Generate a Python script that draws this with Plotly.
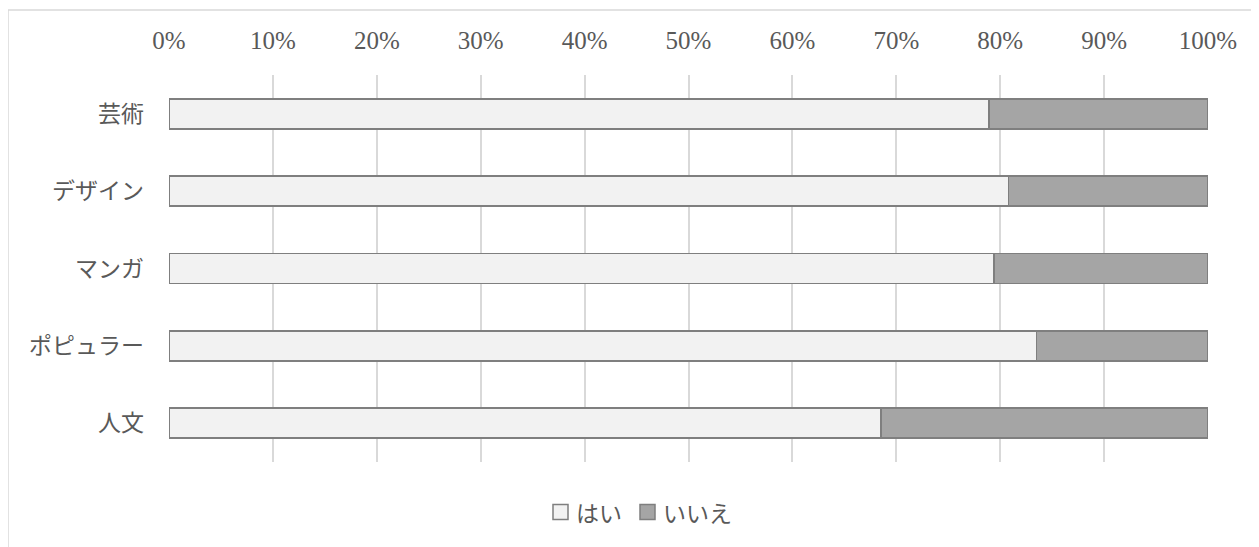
import plotly.graph_objects as go

categories = ["芸術", "デザイン", "マンガ", "ポピュラー", "人文"]
yes_vals = [0.789, 0.808, 0.794, 0.835, 0.685]
no_vals = [round(1 - v, 3) for v in yes_vals]
tick_vals = [i / 10 for i in range(11)]
tick_text = [f"{i*10}%" for i in range(11)]
series_names = ["はい", "いいえ"]
series_colors = ["#f2f2f2", "#a5a5a5"]
edge_color = "#7f7f7f"

OFF = 8  # page body margin
W, H = 1259, 547
L = 169 - OFF
T = 75 - OFF
R = W - (1208 - OFF)
B = H - (462 - OFF)
pw, ph = W - L - R, H - T - B


def px(x):
    return (x - OFF - L) / pw


def py(y):
    return 1 - (y - OFF - T) / ph


sans = "Noto Sans CJK JP"
fig = go.Figure()
for name, vals, col in zip(series_names, [yes_vals, no_vals], series_colors):
    fig.add_trace(go.Bar(y=categories, x=vals, orientation="h", name=name,
                         marker=dict(color=col, line=dict(color=edge_color, width=1.8)),
                         width=0.39, showlegend=False))

shapes = [dict(type="rect", xref="paper", yref="paper",
               x0=px(8), x1=px(1275), y0=py(570), y1=py(10),
               line=dict(color="#d9d9d9", width=1.5), layer="below")]
annotations = []
# manual legend
leg_cy = 512
sq = 15
item_x = [553, 640]
for (name, col, x0) in zip(series_names, series_colors, item_x):
    shapes.append(dict(type="rect", xref="paper", yref="paper",
                       x0=px(x0), x1=px(x0 + sq), y0=py(leg_cy + sq / 2), y1=py(leg_cy - sq / 2),
                       fillcolor=col, line=dict(color=edge_color, width=1.5)))
    annotations.append(dict(xref="paper", yref="paper", x=px(x0 + sq + 6), y=py(leg_cy),
                            xanchor="left", yanchor="middle", showarrow=False, text=name,
                            font=dict(family=sans, size=23, color="#595959")))

fig.update_layout(
    width=W, height=H, barmode="stack",
    margin=dict(l=L, r=R, t=T, b=B),
    paper_bgcolor="white", plot_bgcolor="white",
    font=dict(family=sans, color="#595959", size=23),
    showlegend=False,
    xaxis=dict(side="top", range=[0, 1], tickvals=tick_vals, ticktext=tick_text,
               showgrid=True, gridcolor="#d9d9d9", gridwidth=1.5, zeroline=False,
               showline=False, ticks="", ticklabelstandoff=20,
               tickfont=dict(family="Liberation Serif", size=25, color="#595959")),
    yaxis=dict(autorange="reversed", showgrid=False, zeroline=False, showline=False,
               ticks="", ticklabelstandoff=24,
               tickfont=dict(family=sans, size=23, color="#595959")),
    shapes=shapes,
    annotations=annotations,
)
fig.write_html("out.html")
